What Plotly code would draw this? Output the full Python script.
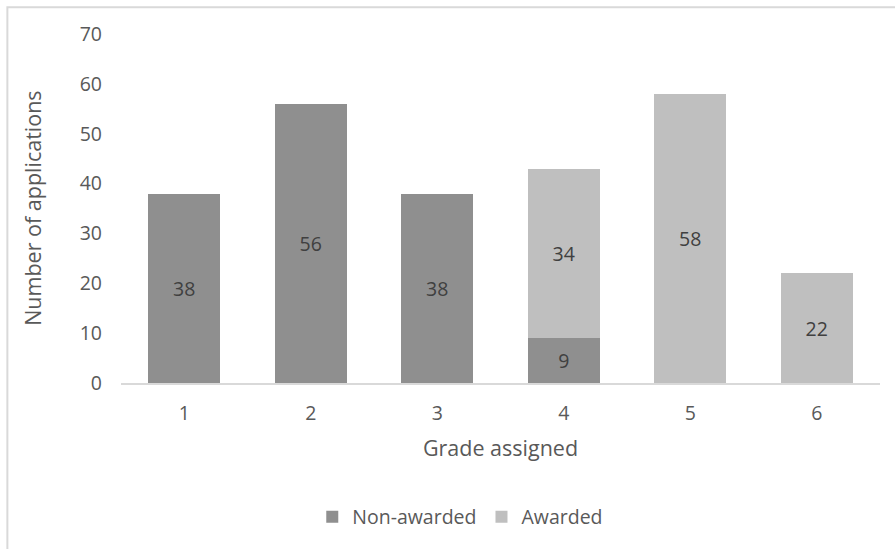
import plotly.graph_objects as go

# Applications per grade, split by outcome
grades = ["1", "2", "3", "4", "5", "6"]
non_awarded = [38, 56, 38, 9, None, None]
awarded = [None, None, None, 34, 58, 22]

FONT = "Open Sans, Segoe UI, DejaVu Sans, sans-serif"
TICK_COLOR = "#595959"

def labels(vals):
    return [str(v) if v is not None else "" for v in vals]

fig = go.Figure()
fig.add_trace(go.Bar(
    name="Non-awarded", x=grades, y=non_awarded,
    marker=dict(color="#8f8f8f", line=dict(width=0)),
    text=labels(non_awarded), textposition="inside",
    insidetextanchor="middle", constraintext="none",
    textfont=dict(family=FONT, size=19.5, color="#404040"),
))
fig.add_trace(go.Bar(
    name="Awarded", x=grades, y=awarded,
    marker=dict(color="#bfbfbf", line=dict(width=0)),
    text=labels(awarded), textposition="inside",
    insidetextanchor="middle", constraintext="none",
    textfont=dict(family=FONT, size=19.5, color="#404040"),
))

fig.update_layout(
    width=895, height=549,
    barmode="stack", bargap=0.43,
    uniformtext=dict(minsize=19, mode="show"),
    plot_bgcolor="white", paper_bgcolor="white",
    margin=dict(l=121, r=15, t=34, b=166),
    font=dict(family=FONT, color=TICK_COLOR),
    showlegend=True,
    legend=dict(
        orientation="h", x=0.447, xanchor="center", y=-0.384, yanchor="middle",
        font=dict(family=FONT, size=19.5, color=TICK_COLOR),
        itemwidth=30, traceorder="normal",
    ),
    xaxis=dict(
        showgrid=False, showline=True, linecolor="#d9d9d9", linewidth=1.5,
        ticks="", tickfont=dict(size=19.5, color=TICK_COLOR),
        ticklabelstandoff=12,
        title=dict(text="Grade assigned", font=dict(size=21.5, color=TICK_COLOR), standoff=16),
    ),
    yaxis=dict(
        range=[0, 70], dtick=10, showgrid=False, zeroline=False, showline=False,
        ticks="", tickfont=dict(size=19.5, color=TICK_COLOR),
        ticklabelstandoff=18,
    ),
    annotations=[dict(
        text="Number of applications", xref="paper", yref="paper",
        x=-0.1168, y=0.5, textangle=-90, showarrow=False,
        xanchor="center", yanchor="middle",
        font=dict(family=FONT, size=21.5, color=TICK_COLOR),
    )],
    shapes=[dict(
        type="rect", xref="paper", yref="paper",
        x0=-0.1497, x1=1.2, y0=-0.6, y1=1.077,
        line=dict(color="#d9d9d9", width=2), fillcolor="rgba(0,0,0,0)",
        layer="below",
    )],
)

fig.write_html("out.html")
